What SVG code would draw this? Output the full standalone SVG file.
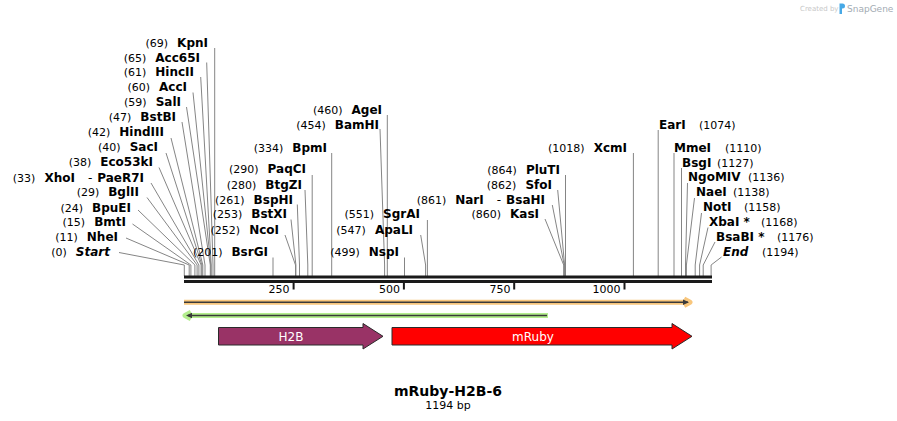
<svg xmlns="http://www.w3.org/2000/svg" width="897" height="421" viewBox="0 0 897 421">
<style>
text{font-family:"DejaVu Sans",Verdana,sans-serif;fill:#000}
.n{font-size:11px}
.b{font-size:12px;font-weight:bold}
.i{font-style:italic}
.d{font-size:12px}
.c{stroke:#858585;stroke-width:1;fill:none}
.tk{font-size:11px;text-anchor:end}
.ft{font-size:12px;fill:#fff;text-anchor:middle}
</style>
<rect width="897" height="421" fill="#fff"/>
<g id="watermark">
<text x="800" y="10.5" style="font-size:7px;fill:#c8c8c8">Created by</text>
<path d="M839.5,3.5 h3 a2.5,2.5 0 0 1 0,5 h-0.5 v5.5 h-2.5 z" fill="#47a9e6"/>
<text x="847" y="11.5" style="font-size:9px;fill:#a3abb3">SnapGene</text>
</g>
<g id="connectors">
<path class="c" d="M214.7,48V276"/>
<path class="c" d="M206.7,62.5L213,265V276"/>
<path class="c" d="M200.7,77L211.2,265V276"/>
<path class="c" d="M193,92.5L210.8,265V276"/>
<path class="c" d="M186.5,107L210.3,265V276"/>
<path class="c" d="M182,122L205,265V276"/>
<path class="c" d="M171,138L202.8,265V276"/>
<path class="c" d="M166,153L201.9,265V276"/>
<path class="c" d="M159,167.5L201.1,265V276"/>
<path class="c" d="M151,183L198.9,265V276"/>
<path class="c" d="M147,197.5L197.1,265V276"/>
<path class="c" d="M138,210L194.9,265V276"/>
<path class="c" d="M132.5,224L190.9,265V276"/>
<path class="c" d="M126,238L189.2,265V276"/>
<path class="c" d="M119,252.5L184.3,265V276"/>
<path class="c" d="M387.3,115V276"/>
<path class="c" d="M380,129L384.6,265V276"/>
<path class="c" d="M331.7,153V276"/>
<path class="c" d="M312.2,175V276"/>
<path class="c" d="M305,190L307.8,265V276"/>
<path class="c" d="M297.3,204.5L299.5,265V276"/>
<path class="c" d="M291,219.5L295.9,265V276"/>
<path class="c" d="M285,235L295.5,265V276"/>
<path class="c" d="M273,257.5V276"/>
<path class="c" d="M427.4,220V276"/>
<path class="c" d="M420.7,235L425.6,265V276"/>
<path class="c" d="M404.5,257.5V276"/>
<path class="c" d="M633.4,153V276"/>
<path class="c" d="M565.5,175V276"/>
<path class="c" d="M557.7,190L564.6,265V276"/>
<path class="c" d="M552.3,205L564.2,265V276"/>
<path class="c" d="M545,219L563.7,265V276"/>
<path class="c" d="M658.2,130V276"/>
<path class="c" d="M674,153V276"/>
<path class="c" d="M681.5,168V276"/>
<path class="c" d="M687.5,183L685.5,265V276"/>
<path class="c" d="M694.5,198L686.4,265V276"/>
<path class="c" d="M701.5,213L695.2,265V276"/>
<path class="c" d="M708,227.5L699.6,265V276"/>
<path class="c" d="M715,242L703.2,265V276"/>
<path class="c" d="M721.5,257L711.1,265V276"/>
</g>
<g id="sites-left">
<g id="KpnI"><text x="208" y="46.5" text-anchor="end"><tspan class="n">(69)</tspan><tspan class="b" dx="9">KpnI</tspan></text></g>
<g id="Acc65I"><text x="200" y="61.5" text-anchor="end"><tspan class="n">(65)</tspan><tspan class="b" dx="9">Acc65I</tspan></text></g>
<g id="HincII"><text x="194" y="76" text-anchor="end"><tspan class="n">(61)</tspan><tspan class="b" dx="9">HincII</tspan></text></g>
<g id="AccI"><text x="187" y="91" text-anchor="end"><tspan class="n">(60)</tspan><tspan class="b" dx="9">AccI</tspan></text></g>
<g id="SalI"><text x="181" y="105.5" text-anchor="end"><tspan class="n">(59)</tspan><tspan class="b" dx="9">SalI</tspan></text></g>
<g id="BstBI"><text x="176" y="120.5" text-anchor="end"><tspan class="n">(47)</tspan><tspan class="b" dx="9">BstBI</tspan></text></g>
<g id="HindIII"><text x="164" y="136" text-anchor="end"><tspan class="n">(42)</tspan><tspan class="b" dx="9">HindIII</tspan></text></g>
<g id="SacI"><text x="158" y="151" text-anchor="end"><tspan class="n">(40)</tspan><tspan class="b" dx="9">SacI</tspan></text></g>
<g id="Eco53kI"><text x="153" y="166" text-anchor="end"><tspan class="n">(38)</tspan><tspan class="b" dx="9">Eco53kI</tspan></text></g>
<g id="XhoI-PaeR7I"><text x="144" y="181.5" text-anchor="end"><tspan class="n">(33)</tspan><tspan class="b" dx="9">XhoI</tspan><tspan class="d" dx="13">-</tspan><tspan class="b" dx="5">PaeR7I</tspan></text></g>
<g id="BglII"><text x="139" y="196" text-anchor="end"><tspan class="n">(29)</tspan><tspan class="b" dx="9">BglII</tspan></text></g>
<g id="BpuEI"><text x="131" y="211.5" text-anchor="end"><tspan class="n">(24)</tspan><tspan class="b" dx="9">BpuEI</tspan></text></g>
<g id="BmtI"><text x="126" y="226" text-anchor="end"><tspan class="n">(15)</tspan><tspan class="b" dx="9">BmtI</tspan></text></g>
<g id="NheI"><text x="118" y="241" text-anchor="end"><tspan class="n">(11)</tspan><tspan class="b" dx="9">NheI</tspan></text></g>
<g id="Start"><text x="110" y="255.5" text-anchor="end"><tspan class="n">(0)</tspan><tspan class="b i" dx="9">Start</tspan></text></g>
</g>
<g id="sites-mid">
<g id="AgeI"><text x="382" y="113.5" text-anchor="end"><tspan class="n">(460)</tspan><tspan class="b" dx="9">AgeI</tspan></text></g>
<g id="BamHI"><text x="379" y="128.5" text-anchor="end"><tspan class="n">(454)</tspan><tspan class="b" dx="9">BamHI</tspan></text></g>
<g id="BpmI"><text x="327" y="152" text-anchor="end"><tspan class="n">(334)</tspan><tspan class="b" dx="9">BpmI</tspan></text></g>
<g id="PaqCI"><text x="306" y="173" text-anchor="end"><tspan class="n">(290)</tspan><tspan class="b" dx="9">PaqCI</tspan></text></g>
<g id="BtgZI"><text x="302" y="188.5" text-anchor="end"><tspan class="n">(280)</tspan><tspan class="b" dx="9">BtgZI</tspan></text></g>
<g id="BspHI"><text x="293" y="203.5" text-anchor="end"><tspan class="n">(261)</tspan><tspan class="b" dx="9">BspHI</tspan></text></g>
<g id="BstXI"><text x="287" y="218" text-anchor="end"><tspan class="n">(253)</tspan><tspan class="b" dx="9">BstXI</tspan></text></g>
<g id="NcoI"><text x="279" y="233.5" text-anchor="end"><tspan class="n">(252)</tspan><tspan class="b" dx="9">NcoI</tspan></text></g>
<g id="BsrGI"><text x="268" y="256" text-anchor="end"><tspan class="n">(201)</tspan><tspan class="b" dx="9">BsrGI</tspan></text></g>
<g id="SgrAI"><text x="420" y="218" text-anchor="end"><tspan class="n">(551)</tspan><tspan class="b" dx="9">SgrAI</tspan></text></g>
<g id="ApaLI"><text x="413" y="233.5" text-anchor="end"><tspan class="n">(547)</tspan><tspan class="b" dx="9">ApaLI</tspan></text></g>
<g id="NspI"><text x="399" y="256" text-anchor="end"><tspan class="n">(499)</tspan><tspan class="b" dx="9">NspI</tspan></text></g>
<g id="XcmI"><text x="627" y="152" text-anchor="end"><tspan class="n">(1018)</tspan><tspan class="b" dx="9">XcmI</tspan></text></g>
<g id="PluTI"><text x="560" y="173.5" text-anchor="end"><tspan class="n">(864)</tspan><tspan class="b" dx="9">PluTI</tspan></text></g>
<g id="SfoI"><text x="552" y="188.5" text-anchor="end"><tspan class="n">(862)</tspan><tspan class="b" dx="9">SfoI</tspan></text></g>
<g id="NarI-BsaHI"><text x="545" y="204" text-anchor="end"><tspan class="n">(861)</tspan><tspan class="b" dx="9">NarI</tspan><tspan class="d" dx="13">-</tspan><tspan class="b" dx="5">BsaHI</tspan></text></g>
<g id="KasI"><text x="539" y="218" text-anchor="end"><tspan class="n">(860)</tspan><tspan class="b" dx="9">KasI</tspan></text></g>
</g>
<g id="sites-right">
<g id="EarI"><text class="b" x="659" y="128.5">EarI</text><text class="n" x="699" y="128.5">(1074)</text></g>
<g id="MmeI"><text class="b" x="674" y="152">MmeI</text><text class="n" x="725" y="152">(1110)</text></g>
<g id="BsgI"><text class="b" x="682" y="166.5">BsgI</text><text class="n" x="717" y="166.5">(1127)</text></g>
<g id="NgoMIV"><text class="b" x="688" y="181">NgoMIV</text><text class="n" x="748" y="181">(1136)</text></g>
<g id="NaeI"><text class="b" x="696" y="196">NaeI</text><text class="n" x="733" y="196">(1138)</text></g>
<g id="NotI"><text class="b" x="703" y="211">NotI</text><text class="n" x="744" y="211">(1158)</text></g>
<g id="XbaI"><text class="b" x="709" y="225.5">XbaI *</text><text class="n" x="761" y="225.5">(1168)</text></g>
<g id="BsaBI"><text class="b" x="716" y="241">BsaBI *</text><text class="n" x="777" y="241">(1176)</text></g>
<g id="End"><text class="b i" x="723" y="255.5">End</text><text class="n" x="762" y="255.5">(1194)</text></g>
</g>
<g id="backbone">
<rect x="184" y="275.5" width="528" height="3" fill="#1a1a1a"/>
<rect x="184" y="280" width="528" height="3" fill="#1a1a1a"/>
<rect x="292.6" y="283" width="2" height="6.5" fill="#1a1a1a"/>
<rect x="402.9" y="283" width="2" height="6.5" fill="#1a1a1a"/>
<rect x="513.2" y="283" width="2" height="6.5" fill="#1a1a1a"/>
<rect x="623.5" y="283" width="2" height="6.5" fill="#1a1a1a"/>
<text class="tk" x="289.5" y="293">250</text>
<text class="tk" x="400" y="293">500</text>
<text class="tk" x="510.5" y="293">750</text>
<text class="tk" x="620.5" y="293">1000</text>
</g>
<g id="orf-forward">
<path d="M184,302.3H689M684,299L690,302.3L684,305.6" fill="none" stroke="#f8c67c" stroke-width="5" stroke-linejoin="round"/>
<path d="M184,302.3H688" stroke="#3a3a3a" stroke-width="1.5"/>
<path d="M683,299.6L689,302.3L683,305z" fill="#3a3a3a"/>
</g>
<g id="orf-reverse">
<path d="M548,315.5H187M191,312.2L185,315.5L191,318.8" fill="none" stroke="#b4ee8e" stroke-width="5" stroke-linejoin="round"/>
<path d="M547,315.5H188" stroke="#3a3a3a" stroke-width="1.5"/>
<path d="M192,312.8L186,315.5L192,318.2z" fill="#3a3a3a"/>
</g>
<g id="H2B">
<path d="M218.5,327.5H363V323.5L383,336.3L363,349V345H218.5Z" fill="#993366" stroke="#2a2a2a" stroke-width="1"/>
<text class="ft" x="291" y="340.5">H2B</text>
</g>
<g id="mRuby">
<path d="M392,327.5H672V323.5L692,336.3L672,349V345H392Z" fill="#ff0000" stroke="#2a2a2a" stroke-width="1"/>
<text class="ft" x="533" y="340.5">mRuby</text>
</g>
<g id="title">
<text x="448" y="395.5" text-anchor="middle" style="font-size:14px;font-weight:bold">mRuby-H2B-6</text>
<text x="448" y="408.5" text-anchor="middle" style="font-size:11px">1194 bp</text>
</g>
</svg>
